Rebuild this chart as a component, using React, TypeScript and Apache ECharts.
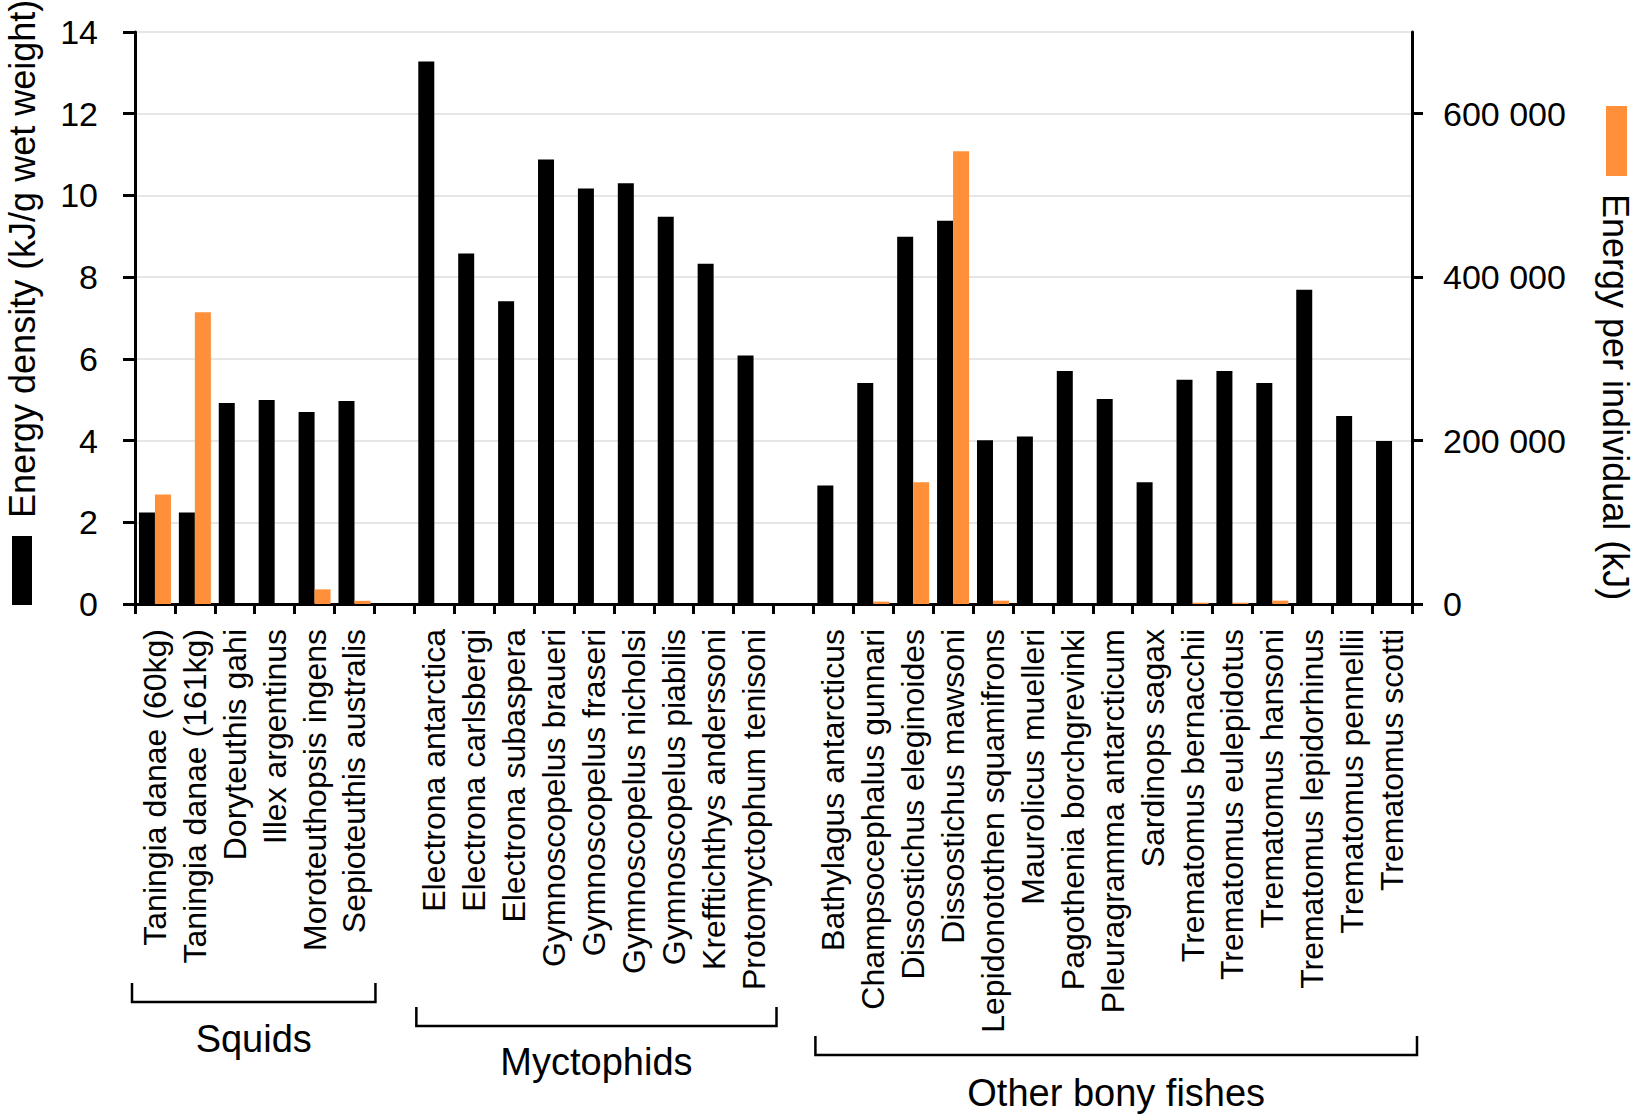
import React, { useEffect, useRef } from "react";
import * as echarts from "echarts";

// ---- data ----
const categories: string[] = [
  "Taningia danae (60kg)",
  "Taningia danae (161kg)",
  "Doryteuthis gahi",
  "Illex argentinus",
  "Moroteuthopsis ingens",
  "Sepioteuthis australis",
  " ",
  "Electrona antarctica",
  "Electrona carlsbergi",
  "Electrona subaspera",
  "Gymnoscopelus braueri",
  "Gymnoscopelus fraseri",
  "Gymnoscopelus nicholsi",
  "Gymnoscopelus piabilis",
  "Krefftichthys anderssoni",
  "Protomyctophum tenisoni",
  "  ",
  "Bathylagus antarcticus",
  "Champsocephalus gunnari",
  "Dissostichus eleginoides",
  "Dissostichus mawsoni",
  "Lepidonotothen squamifrons",
  "Maurolicus muelleri",
  "Pagothenia borchgrevinki",
  "Pleuragramma antarcticum",
  "Sardinops sagax",
  "Trematomus bernacchii",
  "Trematomus eulepidotus",
  "Trematomus hansoni",
  "Trematomus lepidorhinus",
  "Trematomus pennellii",
  "Trematomus scotti",
];

// Energy density (kJ/g wet weight) – left axis
const energyDensity: (number | null)[] = [
  2.24, 2.24, 4.92, 4.99, 4.7, 4.97,
  null,
  13.28, 8.58, 7.41, 10.88, 10.17, 10.3, 9.48, 8.33, 6.08,
  null,
  2.9, 5.41, 8.99, 9.38, 4.01, 4.1, 5.7, 5.02, 2.98, 5.49, 5.7, 5.41, 7.69, 4.6, 3.99,
];

// Energy per individual (kJ) – right axis
const energyPerIndividual: (number | null)[] = [
  134000, 357000, 0, 0, 17900, 3900,
  null,
  0, 0, 0, 0, 0, 0, 0, 0, 0,
  null,
  0, 2900, 149000, 554000, 4100, 0, 0, 0, 0, 1600, 1600, 4100, 0, 0, 0,
];

const leftAxisTitle = "Energy density (kJ/g wet weight)";
const rightAxisTitle = "Energy per individual (kJ)";
const rightTickValues = [0, 200000, 400000, 600000];

const groupNames = ["Squids", "Myctophids", "Other bony fishes"];
const groupFirst = [0, 7, 17];
const groupLast = [5, 15, 31];

// ---- styles ----
const FONT = "'Liberation Sans', Arial, Helvetica, sans-serif";
const BLACK = "#000000";
const ORANGE = "#ff8f38";
const GRID_COLOR = "#dedede";

const groupLineY = [1002, 1026, 1055];
const groupTextY = [1039, 1062, 1093];
const groupLeftPad = [-3, 2, 2];
const groupRightPad = [1, 3, 5];

function fmtThousands(v: number): string {
  return String(v).replace(/\B(?=(\d{3})+(?!\d))/g, " ");
}

export default function App() {
  const ref = useRef<HTMLDivElement>(null);

  useEffect(() => {
    document.body.style.margin = "0";
    if (!ref.current) return;
    const chart = echarts.init(ref.current, null, { renderer: "svg" });

    const option: any = {
      animation: false,
      backgroundColor: "#ffffff",
      textStyle: { fontFamily: FONT },
      grid: { left: 135, right: 228, top: 32, bottom: 516, containLabel: false },
      xAxis: {
        type: "category",
        data: categories,
        boundaryGap: true,
        axisLine: { show: true, lineStyle: { color: BLACK, width: 3 } },
        axisTick: { show: true, interval: 0, length: 10, lineStyle: { color: BLACK, width: 3 } },
        axisLabel: {
          interval: 0,
          rotate: 90,
          margin: 25,
          color: BLACK,
          fontSize: 32,
          fontFamily: FONT,
        },
        splitLine: { show: false },
      },
      yAxis: [
        {
          type: "value",
          min: 0,
          max: 14,
          interval: 2,
          position: "left",
          axisLine: { show: true, lineStyle: { color: BLACK, width: 3 } },
          axisTick: { show: true, length: 12, lineStyle: { color: BLACK, width: 3 } },
          axisLabel: { color: BLACK, fontSize: 34, margin: 37, fontFamily: FONT },
          splitLine: { show: true, lineStyle: { color: GRID_COLOR, width: 1.5 } },
        },
        {
          type: "value",
          min: 0,
          max: 700000,
          interval: 200000,
          position: "right",
          axisLine: { show: true, lineStyle: { color: BLACK, width: 3 } },
          axisTick: {
            show: true,
            length: 11,
            customValues: rightTickValues,
            lineStyle: { color: BLACK, width: 3 },
          },
          axisLabel: {
            color: BLACK,
            fontSize: 34,
            margin: 31,
            fontFamily: FONT,
            customValues: rightTickValues,
            formatter: (v: number) => (rightTickValues.indexOf(v) >= 0 ? fmtThousands(v) : ""),
          },
          splitLine: { show: false },
        },
      ],
      series: [
        {
          name: "Energy density",
          type: "bar",
          yAxisIndex: 0,
          data: energyDensity,
          barWidth: 16,
          barGap: "0%",
          itemStyle: { color: BLACK },
        },
        {
          name: "Energy per individual",
          type: "bar",
          yAxisIndex: 1,
          data: energyPerIndividual,
          barWidth: 16,
          barGap: "0%",
          itemStyle: { color: ORANGE },
        },
      ],
    };

    chart.setOption(option);

    const c0 = chart.convertToPixel({ xAxisIndex: 0 }, 0) as number;
    const c1 = chart.convertToPixel({ xAxisIndex: 0 }, 1) as number;
    const catW = c1 - c0;

    const graphics: any[] = [
      // legend swatches
      { type: "rect", shape: { x: 12, y: 536, width: 20, height: 69 }, style: { fill: BLACK } },
      { type: "rect", shape: { x: 1606, y: 106, width: 21, height: 70 }, style: { fill: ORANGE } },
      // axis titles
      {
        type: "text",
        x: 22,
        y: 518,
        rotation: Math.PI / 2,
        style: {
          text: leftAxisTitle,
          fontSize: 36,
          fontFamily: FONT,
          fill: BLACK,
          textAlign: "left",
          textVerticalAlign: "middle",
        },
      },
      {
        type: "text",
        x: 1615,
        y: 194,
        rotation: -Math.PI / 2,
        style: {
          text: rightAxisTitle,
          fontSize: 36,
          fontFamily: FONT,
          fill: BLACK,
          textAlign: "left",
          textVerticalAlign: "middle",
        },
      },
    ];

    groupNames.forEach((name, i) => {
      const xa =
        (chart.convertToPixel({ xAxisIndex: 0 }, groupFirst[i]) as number) - catW / 2 + groupLeftPad[i];
      const xb =
        (chart.convertToPixel({ xAxisIndex: 0 }, groupLast[i]) as number) + catW / 2 + groupRightPad[i];
      const yl = groupLineY[i];
      graphics.push({
        type: "polyline",
        shape: { points: [[xa, yl - 19], [xa, yl], [xb, yl], [xb, yl - 19]] },
        style: { stroke: BLACK, lineWidth: 2.5, fill: "none" },
      });
      graphics.push({
        type: "text",
        x: (xa + xb) / 2,
        y: groupTextY[i],
        style: {
          text: name,
          fontSize: 38,
          fontFamily: FONT,
          fill: BLACK,
          textAlign: "center",
          textVerticalAlign: "middle",
        },
      });
    });

    chart.setOption({ graphic: graphics });

    return () => {
      chart.dispose();
    };
  }, []);

  return <div ref={ref} style={{ width: 1640, height: 1120 }} />;
}
